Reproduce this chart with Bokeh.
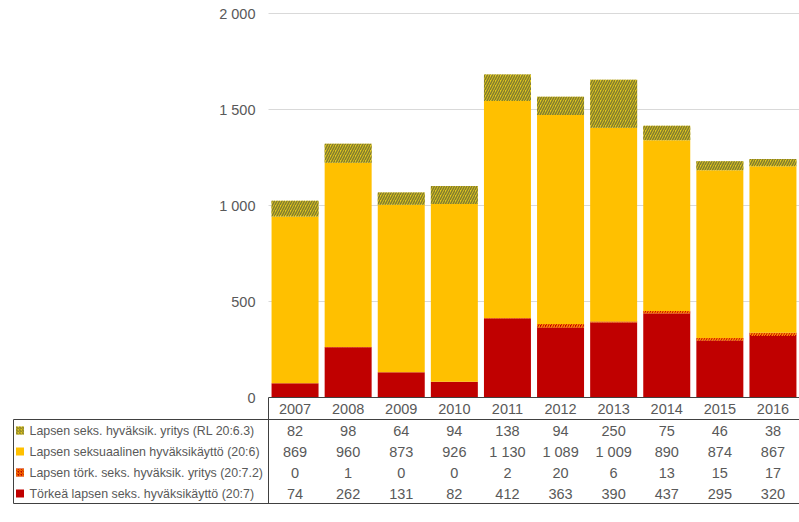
import numpy as np
from bokeh.plotting import figure
from bokeh.models import Range1d
from bokeh.core.properties import value
from bokeh.embed import file_html
from bokeh.resources import INLINE

# ---- data ----
years = ["2007", "2008", "2009", "2010", "2011", "2012", "2013", "2014", "2015", "2016"]
torkea = [74, 262, 131, 82, 412, 363, 390, 437, 295, 320]           # 20:7
tork_yritys = [0, 1, 0, 0, 2, 20, 6, 13, 15, 17]                   # 20:7.2
hyvaksikaytto = [869, 960, 873, 926, 1130, 1089, 1009, 890, 874, 867]  # 20:6
seks_yritys = [82, 98, 64, 94, 138, 94, 250, 75, 46, 38]           # RL 20:6.3

series_labels = [
    "Lapsen seks. hyväksik. yritys (RL 20:6.3)",
    "Lapsen seksuaalinen hyväksikäyttö (20:6)",
    "Lapsen törk. seks. hyväksik. yritys (20:7.2)",
    "Törkeä lapsen seks. hyväksikäyttö (20:7)",
]
yticks = [0, 500, 1000, 1500, 2000]

# ---- styles ----
FONT = "Liberation Sans"
TXT = "#595959"
RED = "#C00000"
YEL = "#FFC000"
NUM_FS = "14.5px"
LAB_FS = "12.4px"
styles = {
    "torkea": dict(fill_color=RED),
    "tork_yritys": dict(fill_color=RED, hatch_pattern="/", hatch_color="#FF8A00",
                        hatch_scale=5, hatch_weight=1.5),
    "hyvaksikaytto": dict(fill_color=YEL),
    "seks_yritys": dict(fill_color="#E2C81C", hatch_pattern="/", hatch_color="#827C2E",
                        hatch_scale=5, hatch_weight=1.5),
}

# ---- geometry (page pixels) ----
W, H = 799, 512
FRAME_L, FRAME_R, FRAME_T, FRAME_B = 0, 799, 0, 512
PLOT_L = 268
n = len(years)
colw = (FRAME_R - PLOT_L) / n
y0_px, ytop_px = 397, 13
pxu = (y0_px - ytop_px) / 2000.0

def px2x(px):
    return -0.5 + (px - PLOT_L) / colw

row_h = 21.0
row0_px = 430.0

def px2t(py):
    return (py - row0_px) / row_h

p = figure(width=W, height=H, output_backend="svg", toolbar_location=None,
           x_axis_location=None, y_axis_location=None,
           x_range=Range1d(px2x(FRAME_L), px2x(FRAME_R)),
           y_range=Range1d(-(FRAME_B - y0_px) / pxu, 2000 + (ytop_px - FRAME_T) / pxu),
           min_border=0, min_border_left=0, min_border_right=0,
           min_border_top=0, min_border_bottom=0)
p.extra_y_ranges = {"table": Range1d(px2t(FRAME_B), px2t(FRAME_T))}
p.outline_line_color = None
p.grid.visible = False
p.background_fill_color = "white"
p.border_fill_color = "white"

x = np.arange(n)

# gridlines
gy = [t for t in yticks if t > 0]
p.segment(x0=[-0.5] * len(gy), x1=[px2x(FRAME_R)] * len(gy), y0=gy, y1=gy,
          line_color="#D9D9D9", line_width=1)

# y tick labels
p.text(x=[px2x(255)] * len(yticks), y=yticks,
       text=[f"{t:,}".replace(",", " ") for t in yticks],
       text_font=value(FONT), text_font_size=NUM_FS, text_color=TXT,
       text_align="right", text_baseline="middle")

# stacked bars
stack = [("torkea", torkea), ("tork_yritys", tork_yritys),
         ("hyvaksikaytto", hyvaksikaytto), ("seks_yritys", seks_yritys)]
bottom = np.zeros(n)
for key, vals in stack:
    v = np.array(vals, dtype=float)
    p.vbar(x=x, bottom=bottom, top=bottom + v, width=0.885, line_color=None,
           **styles[key])
    bottom = bottom + v

# axis line
p.segment(x0=[-0.5], x1=[px2x(FRAME_R)], y0=[0], y1=[0], line_color="#404040", line_width=1)

# ---- data table ----
LINE = "#404040"
t_top = px2t(419)
t_bot = px2t(503)
xl = px2x(13)
xr = px2x(FRAME_R)
p.segment(x0=[xl, xl, xl, -0.5], x1=[xr, xr, xl, -0.5],
          y0=[t_top, t_bot, t_top, px2t(397)], y1=[t_top, t_bot, t_bot, t_bot],
          line_color=LINE, line_width=1, y_range_name="table")

# year row
p.text(x=x, y=[px2t(408.5)] * n, text=years, text_font=value(FONT),
       text_font_size=NUM_FS, text_color=TXT, text_align="center",
       text_baseline="middle", y_range_name="table")

rows = [(series_labels[0], seks_yritys, "seks_yritys"),
        (series_labels[1], hyvaksikaytto, "hyvaksikaytto"),
        (series_labels[2], tork_yritys, "tork_yritys"),
        (series_labels[3], torkea, "torkea")]
for k, (lab, vals, key) in enumerate(rows):
    p.text(x=x, y=[k] * n, text=[f"{v:,}".replace(",", " ") for v in vals],
           text_font=value(FONT), text_font_size=NUM_FS, text_color=TXT,
           text_align="center", text_baseline="middle", y_range_name="table")
    p.text(x=[px2x(29)], y=[k], text=[lab], text_font=value(FONT),
           text_font_size=LAB_FS, text_color=TXT, text_align="left",
           text_baseline="middle", y_range_name="table")
    st = dict(styles[key])
    if "hatch_scale" in st:
        st["hatch_scale"] = 3
        st["hatch_weight"] = 1
    p.rect(x=[px2x(19.5)], y=[k], width=8, height=8, width_units="screen",
           height_units="screen", line_color=None, y_range_name="table", **st)

open("out.html", "w").write(file_html(p, INLINE))
